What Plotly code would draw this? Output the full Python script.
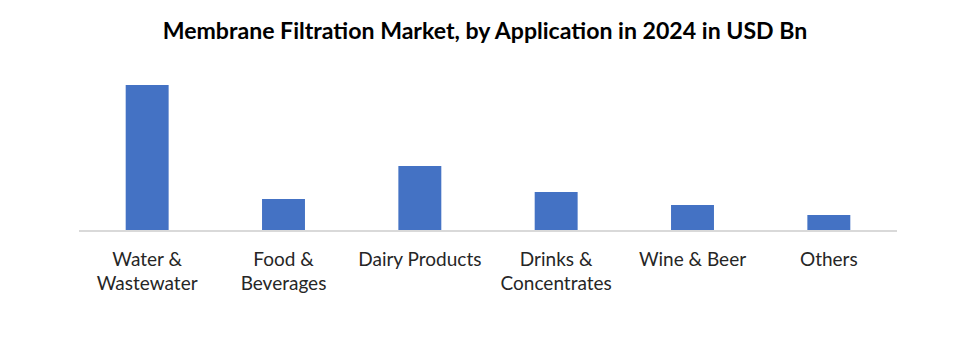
import plotly.graph_objects as go

# Membrane filtration market by application, 2024 (USD Bn)
categories = ["Water &<br>Wastewater", "Food &<br>Beverages", "Dairy Products",
              "Drinks &<br>Concentrates", "Wine & Beer", "Others"]
values = [5.8, 1.24, 2.56, 1.52, 1.0, 0.6]

fig = go.Figure(
    go.Bar(
        x=categories,
        y=values,
        marker=dict(color="#4472c4", line=dict(width=0)),
        width=0.315,
    )
)

fig.update_layout(
    width=970,
    height=342,
    margin=dict(l=79, r=73, t=70, b=112),
    paper_bgcolor="white",
    plot_bgcolor="white",
    showlegend=False,
    title=dict(
        text="<b>Membrane Filtration Market, by Application in 2024 in USD Bn</b>",
        x=0.5,
        xanchor="center",
        y=1 - 31 / 342,
        yanchor="middle",
        font=dict(family="Lato", size=23.1, color="#000000"),
    ),
    font=dict(family="Lato", size=19, color="#262626"),
)

fig.update_xaxes(
    showline=True,
    linecolor="#d9d9d9",
    linewidth=1.5,
    ticks="",
    showgrid=False,
    tickfont=dict(family="Lato", size=19, color="#262626"),
    ticklabelstandoff=11,
)
fig.update_yaxes(
    range=[0, 6.4],
    visible=False,
    showgrid=False,
    zeroline=False,
)

fig.write_html("out.html")
